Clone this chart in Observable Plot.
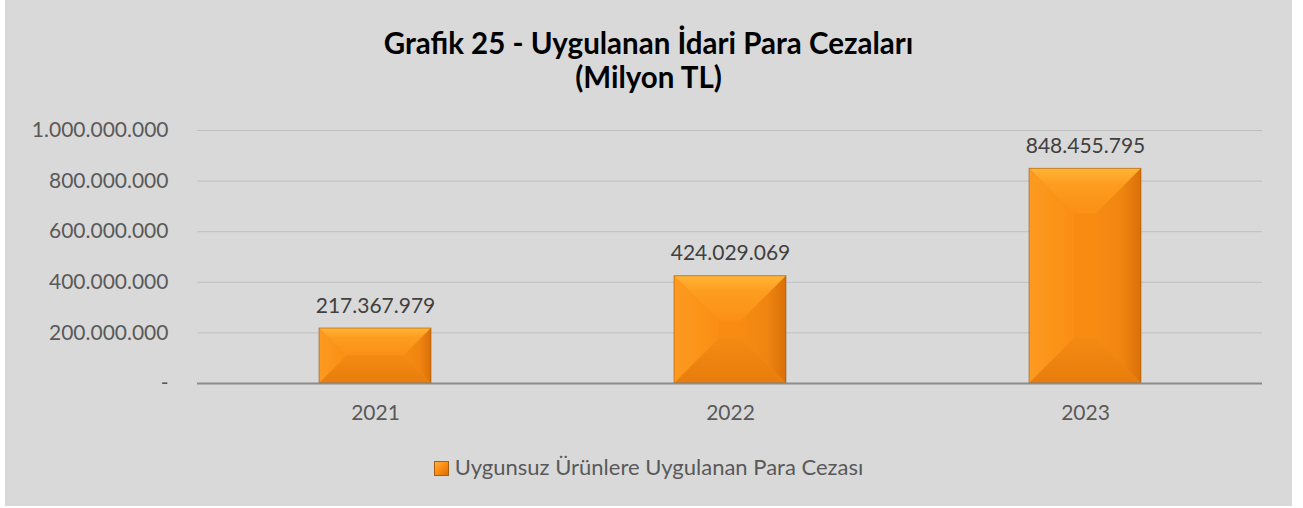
<!DOCTYPE html>
<html><head><meta charset="utf-8">
<script src="https://cdn.jsdelivr.net/npm/d3@7"></script>
<script src="https://cdn.jsdelivr.net/npm/@observablehq/plot@0.6"></script>
<style>
body{margin:0;background:#fff;font-family:Lato,"Open Sans",sans-serif;}
#panel{position:absolute;left:5px;top:0;width:1287px;height:506px;background:#d9d9d9;overflow:hidden;}
#title{position:absolute;left:0;width:100%;top:26px;text-align:center;font-weight:bold;font-size:29.5px;line-height:34px;color:#000;}
#chart{position:absolute;left:0;top:105px;}
#legend{position:absolute;top:452px;left:0;width:100%;text-align:center;font-size:22px;line-height:30px;color:#595959;}
#legend .sw{display:inline-block;width:13px;height:13px;vertical-align:-1px;margin-right:6px;border:1px solid #a85e12;background:linear-gradient(135deg,#ffb040 0%,#fb8c12 50%,#d86c08 100%);}
</style></head>
<body>
<div id="panel">
  <div id="title"></div>
  <div id="chart"></div>
  <div id="legend"></div>
</div>
<script>
const titleLines = ["Grafik 25 - Uygulanan İdari Para Cezaları", "(Milyon TL)"];
const years = ["2021", "2022", "2023"];
const values = [217367979, 424029069, 848455795];
const yTicks = [0, 200000000, 400000000, 600000000, 800000000, 1000000000];
const seriesName = "Uygunsuz Ürünlere Uygulanan Para Cezası";

const locale = d3.formatLocale({decimal: ",", thousands: ".", grouping: [3], currency: ["", ""]});
const fmtInt = locale.format(",d");
const fmt = v => v === 0 ? "-" : fmtInt(v);

document.getElementById("title").innerHTML = titleLines.map(t => `<div>${t}</div>`).join("");
document.getElementById("legend").innerHTML = `<span class="sw"></span>${seriesName}`;

const data = years.map((year, i) => ({year, value: values[i]}));

const NS = "http://www.w3.org/2000/svg";
function bevel(index, scales, vals, dimensions, context, next) {
  const g = next(index, scales, vals, dimensions, context);
  const defs = document.createElementNS(NS, "defs");
  const grad = (id, x2, y2, stops) => {
    const lg = document.createElementNS(NS, "linearGradient");
    lg.setAttribute("id", id);
    lg.setAttribute("x1", 0); lg.setAttribute("y1", 0);
    lg.setAttribute("x2", x2); lg.setAttribute("y2", y2);
    stops.forEach(([o, c]) => {
      const s = document.createElementNS(NS, "stop");
      s.setAttribute("offset", o); s.setAttribute("stop-color", c);
      lg.appendChild(s);
    });
    defs.appendChild(lg);
  };
  grad("bvTop", 0, 1, [[0, "#ffb436"], [0.35, "#fd9d20"], [1, "#fb9016"]]);
  grad("bvBot", 0, 1, [[0, "#f48a12"], [1, "#e87d0c"]]);
  grad("bvLeft", 1, 0, [[0, "#fd9a20"], [1, "#fb8e14"]]);
  grad("bvRight", 1, 0, [[0, "#f78b13"], [0.6, "#ef8410"], [1, "#d97008"]]);
  g.insertBefore(defs, g.firstChild);
  const rects = Array.from(g.querySelectorAll("rect"));
  for (const r of rects) {
    const x = +r.getAttribute("x"), y = +r.getAttribute("y");
    const w = +r.getAttribute("width"), h = +r.getAttribute("height");
    r.setAttribute("fill", "#fa8b12");
    const b = Math.min(0.4 * w, h / 2);
    const faces = [
      ["bvTop", [[x, y], [x + w, y], [x + w - b, y + b], [x + b, y + b]]],
      ["bvBot", [[x, y + h], [x + w, y + h], [x + w - b, y + h - b], [x + b, y + h - b]]],
      ["bvLeft", [[x, y], [x + b, y + b], [x + b, y + h - b], [x, y + h]]],
      ["bvRight", [[x + w, y], [x + w - b, y + b], [x + w - b, y + h - b], [x + w, y + h]]]
    ];
    for (const [id, pts] of faces) {
      const p = document.createElementNS(NS, "polygon");
      p.setAttribute("points", pts.map(q => q.join(",")).join(" "));
      p.setAttribute("fill", `url(#${id})`);
      g.appendChild(p);
    }
    const o = document.createElementNS(NS, "rect");
    o.setAttribute("x", x); o.setAttribute("y", y);
    o.setAttribute("width", w); o.setAttribute("height", h);
    o.setAttribute("fill", "none");
    o.setAttribute("stroke", "rgba(140,75,10,0.5)");
    o.setAttribute("stroke-width", 1);
    g.appendChild(o);
  }
  return g;
}

const chart = Plot.plot({
  width: 1287,
  height: 330,
  marginLeft: 192,
  marginRight: 30,
  marginTop: 25,
  marginBottom: 52,
  style: {background: "transparent", fontFamily: "Lato, 'Open Sans', sans-serif", fontSize: "21px", color: "#595959"},
  x: {domain: years, paddingInner: 0.685, paddingOuter: 0.3425, label: null},
  y: {domain: [0, 1000000000], label: null},
  marks: [
    Plot.gridY(yTicks.filter(d => d > 0), {stroke: "#bfbfbf", strokeOpacity: 1, strokeWidth: 1}),
    Plot.axisY(yTicks, {tickSize: 0, tickPadding: 29, tickFormat: fmt, fill: "#595959", label: null}),
    Plot.axisX({tickSize: 0, tickPadding: 22, fill: "#595959", label: null}),
    Plot.barY(data, {x: "year", y: "value", render: bevel}),
    Plot.ruleY([0], {stroke: "#8c8c8c", strokeWidth: 2}),
    Plot.text(data, {x: "year", y: "value", text: d => fmt(d.value), lineAnchor: "bottom", dy: -16, fill: "#404040"})
  ]
});
document.getElementById("chart").appendChild(chart);
</script>
</body></html>
